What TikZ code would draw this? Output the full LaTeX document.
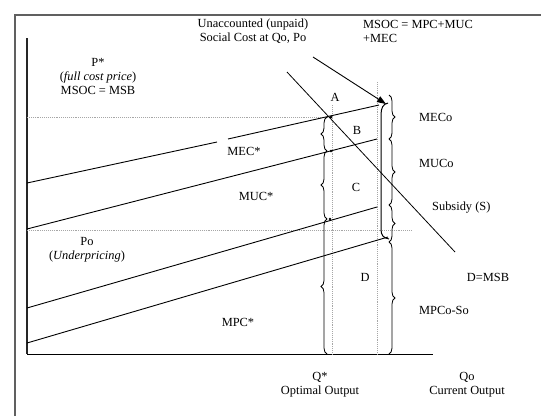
\documentclass[tikz,border=0pt]{standalone}
\usepackage{fontspec}
\setmainfont{Liberation Serif}
\usetikzlibrary{decorations.pathreplacing,arrows.meta}
\begin{document}
\begin{tikzpicture}[x=1pt,y=-1pt,
  lbl/.style={inner sep=0pt, font=\fontsize{12.4}{14}\selectfont, align=center},
  lblw/.style={lbl, anchor=west, align=left},
  curve/.style={line width=0.9pt},
  dots/.style={line width=0.7pt, gray!70, dash pattern=on 0.8pt off 1.1pt},
  rbrace/.style={decorate, decoration={brace, amplitude=6pt}, line width=0.8pt},
  frame/.style={line width=1.3pt, gray!75!black}]
\useasboundingbox (0,0) rectangle (541,416);
% frame
\draw[frame] (15,416) -- (15,15) -- (541,15);
% axes
\draw[line width=1.1pt, black!85] (27,38) -- (27,354);
\draw[line width=1pt] (27,354) -- (433,354);
% dotted guides
\draw[dots] (27,117) -- (332,117);
\draw[dots] (27,230) -- (411,230);
\draw[dots] (332,105) -- (332,354);
\draw[dots] (377,82) -- (377,354);
% cost curves
\draw[curve] (27,183) -- (217,142);
\draw[curve] (228,139) -- (379,105);
\draw[curve] (27,229) -- (377,139);
\draw[curve] (27,308) -- (377,207);
\draw[curve] (27,343) -- (388,237);
% demand
\draw[line width=0.8pt] (287,72) -- (455,252);
% intersection dots
\fill (331,117) circle (1.5pt);
\fill (331,151) circle (1.3pt);
\fill (330,219) circle (1.3pt);
% arrow
\coordinate (arrS) at (313,57);
\coordinate (arrE) at (386,104);
\draw[line width=0.9pt, -{Triangle[length=9pt,width=6.5pt]}] (arrS) -- (arrE);
% big bracket at Qo
\draw[line width=1pt] (388,103) .. controls (383,104) and (381,108) .. (381,115) -- (381,229) .. controls (381,235) and (383,238) .. (389,239);
% right braces
\draw[rbrace] (389,95) -- (389,139);
\draw[rbrace] (389,139) -- (389,205);
\draw[rbrace] (389,205) -- (389,242);
\draw[rbrace] (389,242) -- (389,354);
% left braces at Q*
\draw[rbrace] (327,151) -- (327,117);
\draw[rbrace] (327,219) -- (327,151);
\draw[rbrace] (327,354) -- (327,219);
% labels
\node[lbl] (unacc) at (253,31) {Unaccounted (unpaid)\\Social Cost at Qo, Po};
\node[lblw] (msoc) at (363,31) {MSOC = MPC+MUC\\+MEC};
\node[lbl] (pstar) at (98,76) {P*\\(\textit{full cost price})\\MSOC = MSB};
\node[lbl] (po) at (87,249.5) {Po\\(\textit{Underpricing})};
\node[lbl] (A) at (335,97) {A};
\node[lbl] (B) at (357,130) {B};
\node[lbl] (C) at (356,187) {C};
\node[lbl] (D) at (365,277) {D};
\node[lbl] (mecs) at (244,151) {MEC*};
\node[lbl] (mucs) at (256,196) {MUC*};
\node[lbl] (mpcs) at (238,322) {MPC*};
\node[lblw] (meco) at (419,117) {MECo};
\node[lblw] (muco) at (419,163) {MUCo};
\node[lblw] (subs) at (432,208) {Subsidy (S)};
\node[lbl] (dmsb) at (488,277) {D=MSB};
\node[lblw] (mpco) at (419,310) {MPCo-So};
\node[lbl] (qstar) at (320,385) {Q*\\Optimal Output};
\node[lbl] (qo) at (467,385) {Qo\\Current Output};
\end{tikzpicture}
\end{document}
